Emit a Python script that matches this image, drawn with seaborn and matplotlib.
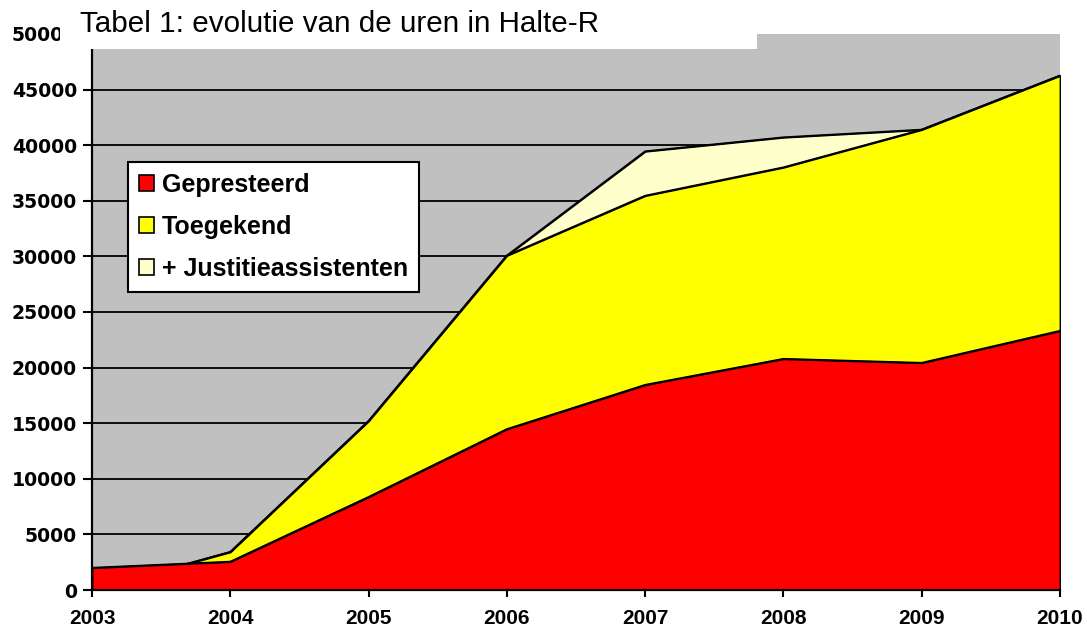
import matplotlib
matplotlib.use('Agg')
import matplotlib.pyplot as plt
import seaborn as sns
from matplotlib.patches import Patch, Rectangle

# ---- data ----
years = [2003, 2004, 2005, 2006, 2007, 2008, 2009, 2010]
gepresteerd = [2000, 2550, 8370, 14470, 18450, 20790, 20430, 23310]
toegekend = [0, 3420, 15200, 30080, 35460, 38010, 41400, 46260]
justitie = [0, 3420, 15200, 30080, 39450, 40710, 41400, 46260]
series_labels = ['Gepresteerd', 'Toegekend', '+ Justitieassistenten']
series_colors = ['#FF0000', '#FFFF00', '#FFFFCC']
yticks = list(range(0, 50001, 5000))
title = 'Tabel 1: evolutie van de uren in Halte-R'

sns.set_theme(style='ticks')
plt.rcParams['font.family'] = ['Liberation Sans', 'DejaVu Sans']
plt.rcParams['text.color'] = 'black'

W, H = 1087, 628
fig = plt.figure(figsize=(W / 100, H / 100), dpi=100)
fig.patch.set_facecolor('white')
ax = fig.add_axes([92 / W, 38 / H, 968 / W, 556 / H])
ax.set_facecolor('#C0C0C0')

# gridlines
for v in yticks[1:-1]:
    ax.axhline(v, color='black', lw=1.3, zorder=1)

# areas back to front
layers = [(justitie, series_colors[2], 2), (toegekend, series_colors[1], 4), (gepresteerd, series_colors[0], 6)]
for vals, col, z in layers:
    ax.fill_between(years, 0, vals, facecolor=col, edgecolor='black', lw=1.3, zorder=z)
    sns.lineplot(x=years, y=vals, color='black', lw=1.3, ax=ax, zorder=z + 0.5)

ax.set_xlim(2003, 2010)
ax.set_ylim(0, 50000)
ax.set_xlabel('')
ax.set_ylabel('')
ax.set_xticks(years, labels=[str(y) for y in years], fontweight='bold', fontsize=15)
ax.set_yticks(yticks, labels=[str(v) for v in yticks], fontweight='bold', fontsize=13.6,
              family='DejaVu Sans')
ax.tick_params(axis='both', direction='out', width=1.5, color='black', labelcolor='black')
ax.tick_params(axis='y', length=6.5, pad=4.3)
ax.tick_params(axis='x', length=5, pad=8.5)
for s in ['top', 'right']:
    ax.spines[s].set_visible(False)
for s in ['left', 'bottom']:
    ax.spines[s].set_color('black')
    ax.spines[s].set_linewidth(1.6)
    ax.spines[s].set_zorder(8)

handles = [Patch(facecolor=c, edgecolor='black', lw=1.2) for c in series_colors]
leg = ax.legend(handles, series_labels, loc='upper left', bbox_to_anchor=(0.037, 0.770),
                borderaxespad=0, frameon=True, fancybox=False, framealpha=1,
                edgecolor='black', facecolor='white', handlelength=0.6, handleheight=0.6,
                handletextpad=0.32, labelspacing=0.72, borderpad=0.45,
                prop={'weight': 'bold', 'size': 18, 'family': 'Liberation Sans'})
leg.get_frame().set_linewidth(1.5)
for t in leg.get_texts():
    t.set_color('black')
leg.set_zorder(20)

# white title box overlapping the top of the chart
fig.add_artist(Rectangle((60 / W, 1 - 49 / H), 697 / W, 49 / H, transform=fig.transFigure,
                         facecolor='white', edgecolor='none', zorder=10))
fig.text(80 / W, 1 - 32 / H, title, fontsize=21.3, va='baseline', ha='left', color='black', zorder=11)

fig.savefig('out.png', dpi=100)
